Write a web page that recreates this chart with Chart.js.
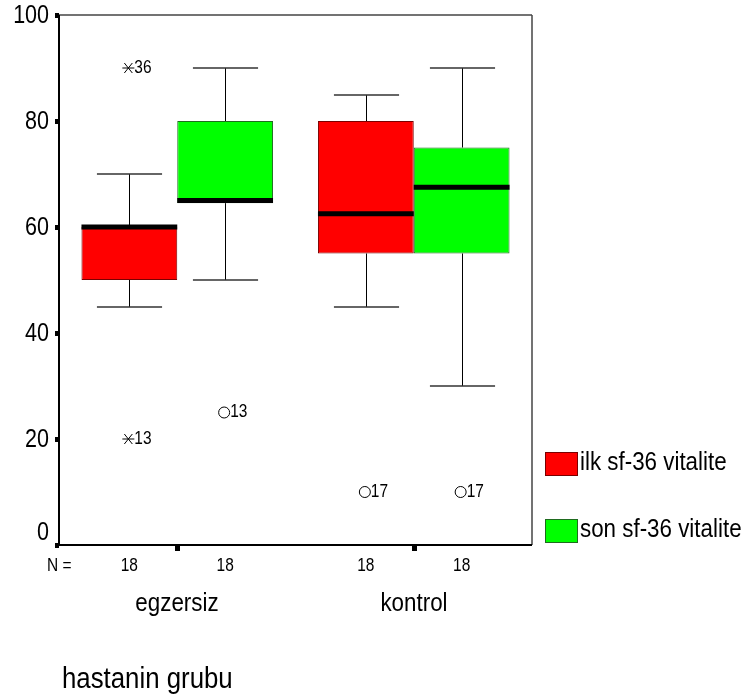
<!DOCTYPE html>
<html>
<head>
<meta charset="utf-8">
<script src="https://cdn.jsdelivr.net/npm/chart.js@4.4.1/dist/chart.umd.min.js"></script>
<style>
  body { margin: 0; background: #fff; }
</style>
</head>
<body>
<canvas id="chart" width="756" height="700"></canvas>
<script>
const groups = ['egzersiz', 'kontrol'];
const seriesNames = ['ilk sf-36 vitalite', 'son sf-36 vitalite'];
const yTicks = [0, 20, 40, 60, 80, 100];
const xTitle = 'hastanin grubu';

// box stats, one entry per group (egzersiz, kontrol)
const ilkMin = [45, 45];
const ilkQ1 = [50, 55];
const ilkMedian = [60, 62.5];
const ilkQ3 = [60, 80];
const ilkMax = [70, 85];
const ilkN = [18, 18];

const sonMin = [50, 30];
const sonQ1 = [64.5, 55];
const sonMedian = [65, 67.5];
const sonQ3 = [80, 75];
const sonMax = [90, 90];
const sonN = [18, 18];

// outliers: [group, value, case number, extreme]
const ilkOutliers = [[0, 90, '36', true], [0, 20, '13', true], [1, 10, '17', false]];
const sonOutliers = [[0, 25, '13', false], [1, 10, '17', false]];

const FONT = "'Liberation Sans', Arial, sans-serif";
const colors = ['#ff0000', '#00ff00'];
const borders = ['#7a0000', '#1f6b1f'];

const stats = [
  { min: ilkMin, q1: ilkQ1, med: ilkMedian, q3: ilkQ3, max: ilkMax, n: ilkN, out: ilkOutliers },
  { min: sonMin, q1: sonQ1, med: sonMedian, q3: sonQ3, max: sonMax, n: sonN, out: sonOutliers }
];

function line(ctx, x1, y1, x2, y2) {
  ctx.beginPath();
  ctx.moveTo(x1, y1);
  ctx.lineTo(x2, y2);
  ctx.stroke();
}

// no narrow font installed, so squeeze Liberation Sans like Arial Narrow
function text(ctx, str, x, y, size, align) {
  ctx.save();
  ctx.translate(x, y);
  ctx.scale(0.86, 1);
  ctx.fillStyle = '#000';
  ctx.font = size + 'px ' + FONT;
  ctx.textAlign = align;
  ctx.textBaseline = 'middle';
  ctx.fillText(str, 0, 0);
  ctx.restore();
}

const boxPlot = {
  id: 'boxPlot',
  afterDatasetsDraw(chart) {
    const ctx = chart.ctx;
    const y = chart.scales.y;
    const py = v => y.getPixelForValue(v);
    ctx.save();
    stats.forEach((s, i) => {
      const meta = chart.getDatasetMeta(i);
      meta.data.forEach((bar, j) => {
        const cx = Math.round(bar.x) + 0.5;
        const half = bar.width / 2;
        const cap = bar.width * 0.34;
        // whiskers
        ctx.strokeStyle = '#000';
        ctx.lineWidth = 1;
        line(ctx, cx, py(s.q3[j]), cx, Math.round(py(s.max[j])));
        line(ctx, cx, py(s.q1[j]), cx, Math.round(py(s.min[j])));
        ctx.strokeStyle = '#333';
        ctx.lineWidth = 1.5;
        line(ctx, cx - cap, Math.round(py(s.max[j])), cx + cap, Math.round(py(s.max[j])));
        line(ctx, cx - cap, Math.round(py(s.min[j])), cx + cap, Math.round(py(s.min[j])));
        // median
        ctx.strokeStyle = '#000';
        ctx.lineWidth = 5;
        line(ctx, bar.x - half, py(s.med[j]), bar.x + half, py(s.med[j]));
        // N row
        text(ctx, String(s.n[j]), bar.x, 566, 18, 'center');
      });
      // outliers
      s.out.forEach(([g, v, id, extreme]) => {
        const bar = meta.data[g];
        const x = bar.x - 1;
        const yy = py(v);
        ctx.strokeStyle = '#000';
        ctx.lineWidth = 1;
        if (extreme) {
          line(ctx, x - 6, yy, x + 6, yy);
          line(ctx, x - 4, yy - 5, x + 4, yy + 5);
          line(ctx, x - 4, yy + 5, x + 4, yy - 5);
        } else {
          ctx.beginPath();
          ctx.arc(x, yy, 5.5, 0, Math.PI * 2);
          ctx.stroke();
        }
        text(ctx, id, x + 6, yy, 18, 'left');
      });
    });
    ctx.restore();
  },
  afterDraw(chart) {
    const ctx = chart.ctx;
    const { left, right, top, bottom } = chart.chartArea;
    const x = chart.scales.x;
    const y = chart.scales.y;
    ctx.save();
    // frame
    ctx.strokeStyle = '#444';
    ctx.lineWidth = 1.5;
    line(ctx, left, top, right, top);
    line(ctx, right, top, right, bottom);
    ctx.strokeStyle = '#000';
    ctx.lineWidth = 2;
    line(ctx, left, top, left, bottom + 1);
    line(ctx, left - 1, bottom, right, bottom);
    // y ticks and labels
    ctx.fillStyle = '#000';
    yTicks.forEach(v => {
      const yy = Math.round(y.getPixelForValue(v));
      ctx.fillRect(left - 4, yy - 2, 4, 5);
      // SPSS lifts the 0 label off the x axis
      text(ctx, String(v), left - 10, v === 0 ? yy - 12 : yy + 1, 25, 'right');
    });
    // category ticks and labels
    groups.forEach((g, i) => {
      const xx = Math.round(x.getPixelForValue(i));
      ctx.fillStyle = '#000';
      ctx.fillRect(xx - 2, bottom + 1, 5, 5);
      text(ctx, g, xx, 604, 26, 'center');
    });
    text(ctx, 'N =', 47, 566, 18, 'left');
    text(ctx, xTitle, left + 3, 680, 30, 'left');
    // legend
    const legendY = [452, 519];
    chart.data.datasets.forEach((ds, i) => {
      ctx.fillStyle = ds.backgroundColor;
      ctx.fillRect(545, legendY[i], 32, 23);
      ctx.strokeStyle = ds.borderColor;
      ctx.lineWidth = 1;
      ctx.strokeRect(545.5, legendY[i] + 0.5, 32, 23);
      text(ctx, ds.label, 580, legendY[i] + 11, 26, 'left');
    });
    ctx.restore();
  }
};

new Chart(document.getElementById('chart'), {
  type: 'bar',
  data: {
    labels: groups,
    datasets: stats.map((s, i) => ({
      label: seriesNames[i],
      data: s.q1.map((q, j) => [q, s.q3[j]]),
      backgroundColor: colors[i],
      borderColor: borders[i],
      borderWidth: 1,
      borderSkipped: false,
      categoryPercentage: 0.81,
      barPercentage: 1.0
    }))
  },
  options: {
    responsive: false,
    animation: false,
    layout: { padding: { top: 15, right: 224, left: 0, bottom: 0 } },
    plugins: {
      legend: { display: false },
      tooltip: { enabled: false }
    },
    scales: {
      x: {
        grid: { display: false, drawTicks: false },
        border: { display: false },
        ticks: { display: false },
        afterFit(scale) { scale.height = 155; }
      },
      y: {
        min: 0,
        max: 100,
        grid: { display: false, drawTicks: false },
        border: { display: false },
        ticks: { display: false },
        afterBuildTicks(scale) { scale.ticks = yTicks.map(v => ({ value: v })); },
        afterFit(scale) { scale.width = 59; }
      }
    }
  },
  plugins: [boxPlot]
});
</script>
</body>
</html>
